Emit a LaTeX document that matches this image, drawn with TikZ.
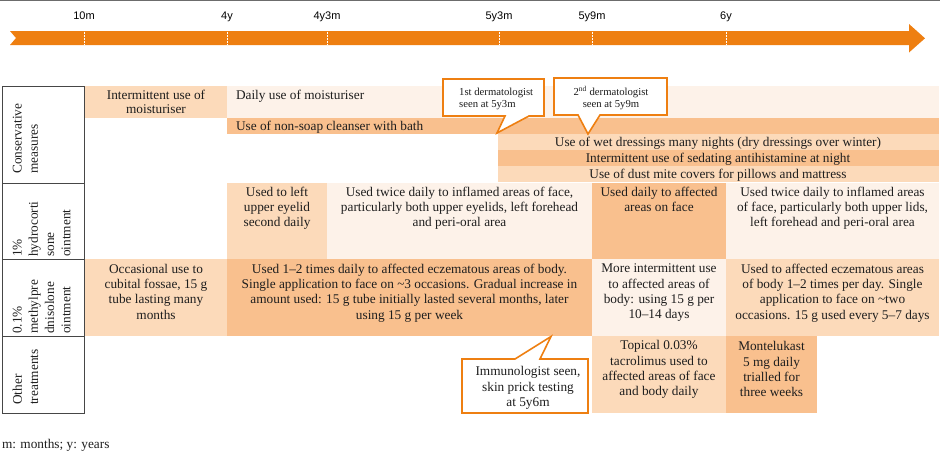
\documentclass[tikz,border=0pt]{standalone}
\usepackage{fontspec}
\setmainfont{Liberation Serif}
\newfontfamily\arialf{Liberation Sans}
\definecolor{tlorange}{RGB}{238,127,17}
\definecolor{cA}{RGB}{253,242,233}
\definecolor{cB}{RGB}{252,218,186}
\definecolor{cC}{RGB}{249,192,142}
\definecolor{txtc}{RGB}{30,30,30}
\definecolor{hdrline}{RGB}{70,70,70}
\begin{document}
\begin{tikzpicture}[x=1pt,y=-1pt,
  txt/.style={font=\fontsize{13.3}{15.3}\selectfont, text=txtc, inner sep=0pt, outer sep=0pt, align=center},
  tltext/.style={font=\arialf\fontsize{11}{13}\selectfont, text=black, inner sep=0pt, anchor=base},
  tick/.style={white, line width=1pt, dash pattern=on 2pt off 1pt},
  hdrbox/.style={draw=hdrline, line width=1pt},
  hdrtext/.style={font=\fontsize{13.3}{16.3}\selectfont, text=txtc, inner sep=0pt, align=left, rotate=90, anchor=north west},
  callout/.style={draw=tlorange, fill=white, line width=1.6pt, line join=miter},
  smalltxt/.style={font=\fontsize{10.7}{11.8}\selectfont, text=txtc, inner sep=0pt}
]
\useasboundingbox (0,0) rectangle (940,453);
% top rule
\draw[gray!85!black, line width=1.4pt] (0,0.7) -- (940,0.7);
% timeline
\fill[tlorange] (10,31) -- (909,31) -- (909,24) -- (925,38.3) -- (909,52.5) -- (909,45) -- (10,45) -- (16,38) -- cycle;
\foreach \xx/\nm/\lab in {84/t10m/10m,227/t4y/4y,327/t4y3m/4y3m,499/t5y3m/5y3m,592/t5y9m/5y9m,726/t6y/6y}{
  \draw[tick] (\xx,31.5) -- (\xx,44.5);
  \node[tltext] (\nm) at (\xx,19) {\lab};
}
% header column
\draw[hdrbox] (2,86) rectangle (84,183);
\draw[hdrbox] (2,183) rectangle (84,259);
\draw[hdrbox] (2,259) rectangle (84,336);
\draw[hdrbox] (2,336) rectangle (84,413);
\node[hdrtext] (hcons) at (12.5,174) {Conservative\\measures};
\node[hdrtext] (hhydro) at (12.5,257) {1\%\\hydrocorti\\sone\\ointment};
\node[hdrtext] (hmethyl) at (12.5,334) {0.1\%\\methylpre\\dnisolone\\ointment};
\node[hdrtext] (hother) at (12.5,405) {Other\\treatments};
% row 1: conservative measures
\fill[cB] (85,86) rectangle (227,118);
\node[txt, anchor=north, font=\fontsize{13.3}{13.5}\selectfont] (intmoist) at (156,90.5) {Intermittent use of\\moisturiser};
\fill[cA] (227,86) rectangle (939,118);
\node[txt, anchor=base west] (dailymoist) at (236,99.5) {Daily use of moisturiser};
\fill[cC] (227,118) rectangle (939,134);
\node[txt, anchor=base west] (nonsoap) at (236,130.5) {Use of non-soap cleanser with bath};
\fill[cB] (498,134) rectangle (939,150);
\node[txt, anchor=base] (wet) at (718,146.5) {Use of wet dressings many nights (dry dressings over winter)};
\fill[cC] (498,150) rectangle (939,166);
\node[txt, anchor=base] (antihist) at (718,162.5) {Intermittent use of sedating antihistamine at night};
\fill[cB] (498,166) rectangle (939,182);
\node[txt, anchor=base] (dust) at (718,178.5) {Use of dust mite covers for pillows and mattress};
% row 2: hydrocortisone
\fill[cB] (227,183) rectangle (327,259);
\node[txt, anchor=north] (lefteye) at (277,187) {Used to left\\upper eyelid\\second daily};
\fill[cA] (327,183) rectangle (592,259);
\node[txt, anchor=north] (twiceA) at (459.5,187) {Used twice daily to inflamed areas of face,\\particularly both upper eyelids, left forehead\\and peri-oral area};
\fill[cC] (592,183) rectangle (726,259);
\node[txt, anchor=north] (dailyface) at (659,187) {Used daily to affected\\areas on face};
\fill[cA] (726,183) rectangle (939,259);
\node[txt, anchor=north] (twiceB) at (832.5,187) {Used twice daily to inflamed areas\\of face, particularly both upper lids,\\left forehead and peri-oral area};
% row 3: methylprednisolone
\fill[cB] (85,259) rectangle (227,336);
\node[txt, anchor=north] (occas) at (156,264) {Occasional use to\\cubital fossae, 15 g\\tube lasting many\\months};
\fill[cC] (227,259) rectangle (592,336);
\node[txt, anchor=north] (usedtimes) at (409.5,264) {Used 1--2 times daily to affected eczematous areas of body.\\Single application to face on \textasciitilde3 occasions. Gradual increase in\\amount used: 15 g tube initially lasted several months, later\\using 15 g per week};
\fill[cA] (592,259) rectangle (726,336);
\node[txt, anchor=north] (moreint) at (659,264) {More intermittent use\\to affected areas of\\body: using 15 g per\\10--14 days};
\fill[cB] (726,259) rectangle (939,336);
\node[txt, anchor=north] (usedaff) at (832.5,264) {Used to affected eczematous areas\\of body 1--2 times per day. Single\\application to face on \textasciitilde two\\occasions. 15 g used every 5--7 days};
% row 4: other treatments
\fill[cB] (592,336) rectangle (726,413);
\node[txt, anchor=north] (tacro) at (659,340.5) {Topical 0.03\%\\tacrolimus used to\\affected areas of face\\and body daily};
\fill[cC] (726,336) rectangle (817,413);
\node[txt, anchor=north] (montel) at (771.5,341.5) {Montelukast\\5 mg daily\\trialled for\\three weeks};
% callouts
\draw[callout] (443,79) -- (544,79) -- (544,116) -- (529,116) -- (497,133) -- (505,116) -- (443,116) -- cycle;
\node[smalltxt, anchor=north west, align=left] (derm1) at (459,88) {1st dermatologist\\seen at 5y3m};
\draw[callout] (554,78) -- (667,78) -- (667,115) -- (600,115) -- (588,134) -- (578,115) -- (554,115) -- cycle;
\node[smalltxt, anchor=north, align=center] (derm2) at (611,86) {2\textsuperscript{nd} dermatologist\\seen at 5y9m};
\draw[callout] (462,359) -- (515,359) -- (551,336.5) -- (540,359) -- (588,359) -- (588,413) -- (462,413) -- cycle;
\node[txt, anchor=north] (immuno) at (528,366.5) {Immunologist seen,\\skin prick testing\\at 5y6m};
% footnote
\node[txt, anchor=base west] (note) at (2,448) {m: months; y: years};
\end{tikzpicture}
\end{document}
